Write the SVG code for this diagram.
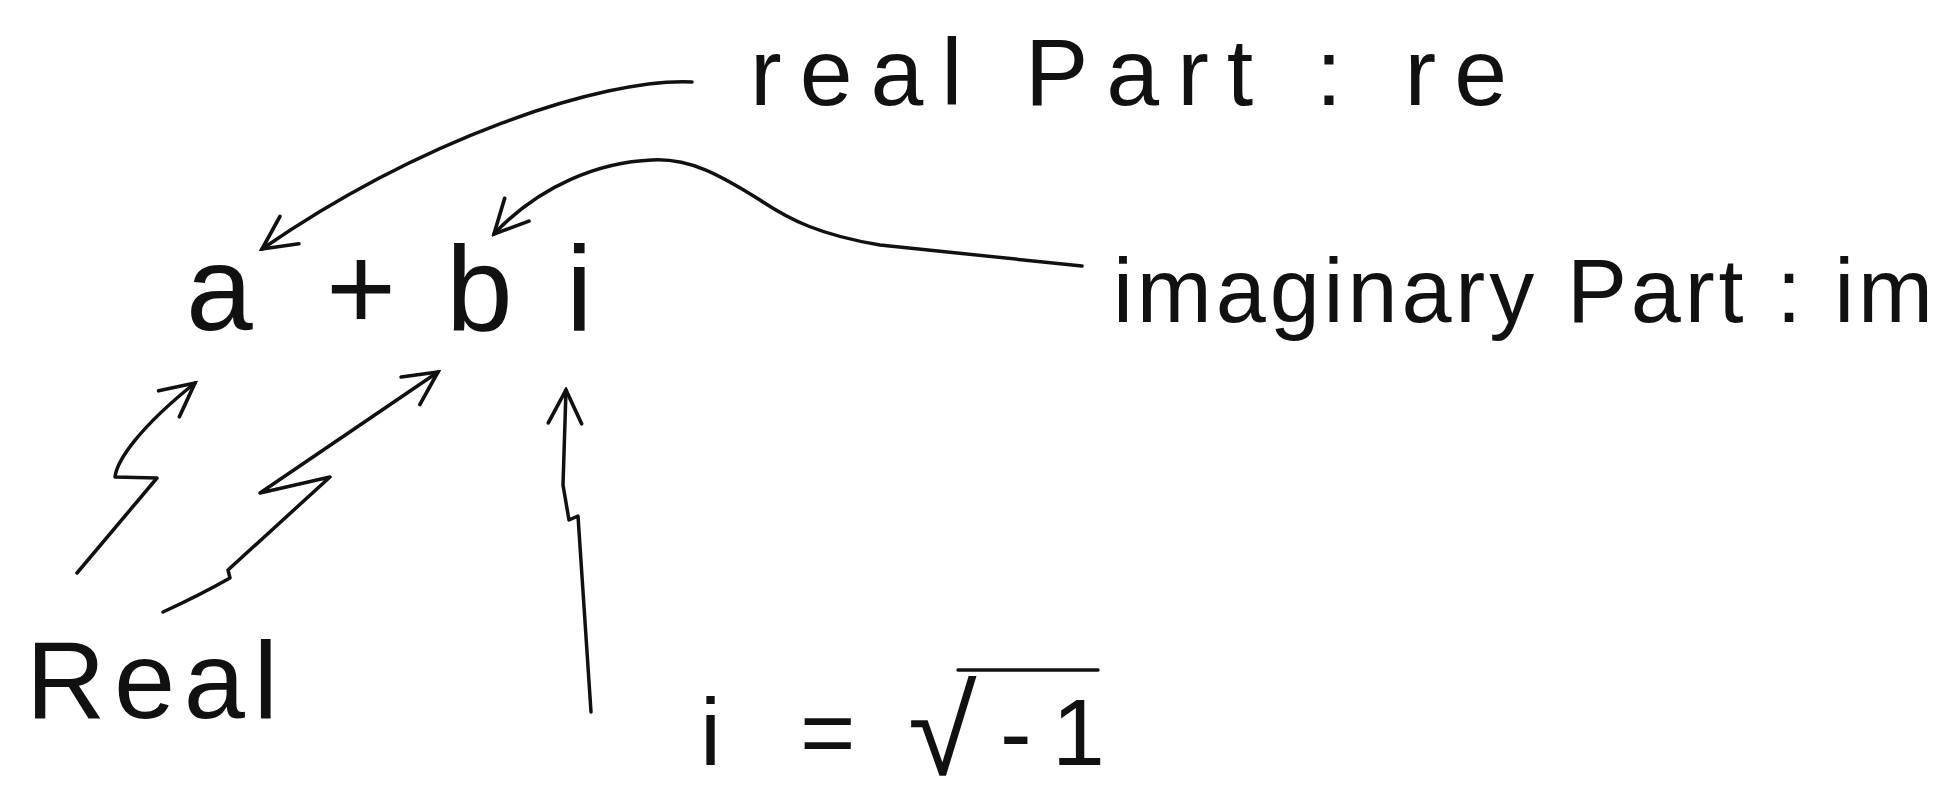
<svg xmlns="http://www.w3.org/2000/svg" width="1952" height="810" viewBox="0 0 1952 810">
<style>
text{font-family:"Liberation Sans",Arial,sans-serif;fill:#111}
.c{fill:none;stroke:#111;stroke-width:3.5;stroke-linecap:round;stroke-linejoin:round}
</style>
<defs>
<marker id="ah" viewBox="0 0 12 12" refX="11" refY="6" markerWidth="40" markerHeight="40" markerUnits="userSpaceOnUse" orient="auto">
<path d="M1,1 L11,6 L1,11" fill="none" stroke="#111" stroke-width="1.1" stroke-linecap="round"/>
</marker>
</defs>
<rect width="1952" height="810" fill="#fff"/>
<g id="real-part"><text x="750" y="105" font-size="95" textLength="757" lengthAdjust="spacing">real Part : re</text></g>
<g id="expr"><text y="330" font-size="120"><tspan x="186">a</tspan> <tspan x="326">+</tspan> <tspan x="446">b</tspan> <tspan x="566">i</tspan></text></g>
<g id="imag-part"><text x="1113" y="322" font-size="90" textLength="820" lengthAdjust="spacing">imaginary Part : im</text></g>
<g id="real"><text x="26" y="718" font-size="110" textLength="252" lengthAdjust="spacing">Real</text></g>
<g id="i-def"><text y="765" font-size="95"><tspan x="700">i</tspan> <tspan x="800">=</tspan> <tspan x="908" font-size="125" y="775">√</tspan><tspan x="1000" y="765">-</tspan><tspan x="1052">1</tspan></text>
<line class="c" x1="958" y1="670" x2="1098" y2="670"/></g>
<g id="connectors">
<path class="c" d="M692,82 C600,78 420,140 262,249" marker-end="url(#ah)"/>
<path class="c" d="M1082,266 L880,245 C820,235 790,220 760,200 C720,175 690,158 652,160 C600,162 540,185 494,234" marker-end="url(#ah)"/>
<path class="c" d="M77,573 L157,478 L115,477 C117,460 140,427 195,383" marker-end="url(#ah)"/>
<path class="c" d="M163,612 Q200,595 230,578 L228,570 L330,477 L260,493 L438,372" marker-end="url(#ah)"/>
<path class="c" d="M591,712 L578,516 L569,520 L563,485 L566,390" marker-end="url(#ah)"/>
</g>
</svg>
